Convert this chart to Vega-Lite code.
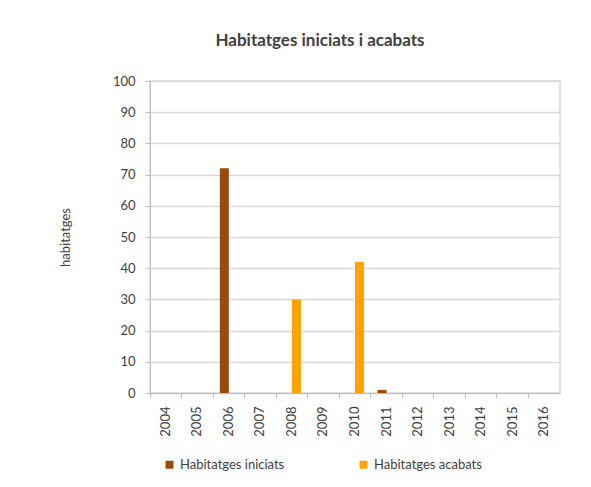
{
  "$schema": "https://vega.github.io/schema/vega-lite/v6.json",
  "autosize": {"type": "none"},
  "width": 410,
  "height": 312,
  "padding": {"left": 150, "top": 81, "right": 31, "bottom": 94},
  "background": "white",
  "title": {
    "text": "Habitatges iniciats i acabats",
    "font": "Lato",
    "fontSize": 17,
    "fontWeight": "bold",
    "color": "#404040",
    "anchor": "middle",
    "dx": -35,
    "offset": 25
  },
  "config": {
    "font": "Lato",
    "view": {"stroke": "#d9d9d9", "strokeWidth": 1.5},
    "axis": {
      "labelFont": "Lato",
      "labelFontSize": 13,
      "labelColor": "#404040",
      "titleFont": "Lato",
      "titleFontSize": 13,
      "titleFontWeight": "normal",
      "titleColor": "#404040",
      "domainColor": "#bfbfbf",
      "tickColor": "#bfbfbf",
      "gridColor": "#d9d9d9",
      "gridWidth": 1.5
    }
  },
  "data": {
    "values": [
      {"any": "2004", "serie": "Habitatges iniciats", "valor": 0},
      {"any": "2004", "serie": "Habitatges acabats", "valor": 0},
      {"any": "2005", "serie": "Habitatges iniciats", "valor": 0},
      {"any": "2005", "serie": "Habitatges acabats", "valor": 0},
      {"any": "2006", "serie": "Habitatges iniciats", "valor": 72},
      {"any": "2006", "serie": "Habitatges acabats", "valor": 0},
      {"any": "2007", "serie": "Habitatges iniciats", "valor": 0},
      {"any": "2007", "serie": "Habitatges acabats", "valor": 0},
      {"any": "2008", "serie": "Habitatges iniciats", "valor": 0},
      {"any": "2008", "serie": "Habitatges acabats", "valor": 30},
      {"any": "2009", "serie": "Habitatges iniciats", "valor": 0},
      {"any": "2009", "serie": "Habitatges acabats", "valor": 0},
      {"any": "2010", "serie": "Habitatges iniciats", "valor": 0},
      {"any": "2010", "serie": "Habitatges acabats", "valor": 42},
      {"any": "2011", "serie": "Habitatges iniciats", "valor": 1},
      {"any": "2011", "serie": "Habitatges acabats", "valor": 0},
      {"any": "2012", "serie": "Habitatges iniciats", "valor": 0},
      {"any": "2012", "serie": "Habitatges acabats", "valor": 0},
      {"any": "2013", "serie": "Habitatges iniciats", "valor": 0},
      {"any": "2013", "serie": "Habitatges acabats", "valor": 0},
      {"any": "2014", "serie": "Habitatges iniciats", "valor": 0},
      {"any": "2014", "serie": "Habitatges acabats", "valor": 0},
      {"any": "2015", "serie": "Habitatges iniciats", "valor": 0},
      {"any": "2015", "serie": "Habitatges acabats", "valor": 0},
      {"any": "2016", "serie": "Habitatges iniciats", "valor": 0},
      {"any": "2016", "serie": "Habitatges acabats", "valor": 0}
    ]
  },
  "mark": {"type": "bar"},
  "encoding": {
    "x": {
      "field": "any",
      "type": "nominal",
      "scale": {"paddingInner": 0, "paddingOuter": 0},
      "axis": {
        "title": null,
        "labelAngle": -90,
        "labelAlign": "right",
        "labelBaseline": "middle",
        "labelPadding": 8,
        "tickSize": 5,
        "bandPosition": 0
      }
    },
    "xOffset": {
      "field": "serie",
      "type": "nominal",
      "scale": {"domain": ["Habitatges iniciats", "Habitatges acabats"], "paddingInner": 0, "paddingOuter": 0.75}
    },
    "y": {
      "field": "valor",
      "type": "quantitative",
      "scale": {"domain": [0, 100], "nice": false},
      "axis": {
        "title": "habitatges",
        "values": [0, 10, 20, 30, 40, 50, 60, 70, 80, 90, 100],
        "tickSize": 5,
        "labelPadding": 10,
        "titlePadding": 40
      }
    },
    "color": {
      "field": "serie",
      "type": "nominal",
      "scale": {"domain": ["Habitatges iniciats", "Habitatges acabats"], "range": ["#9c4a0c", "#ffa300"]},
      "legend": {
        "title": null,
        "orient": "none",
        "direction": "horizontal",
        "legendX": 13,
        "legendY": 377,
        "symbolType": "square",
        "symbolSize": 64,
        "symbolStrokeWidth": 0,
        "labelFont": "Lato",
        "labelFontSize": 13,
        "labelColor": "#404040",
        "columnPadding": 72
      }
    }
  }
}
